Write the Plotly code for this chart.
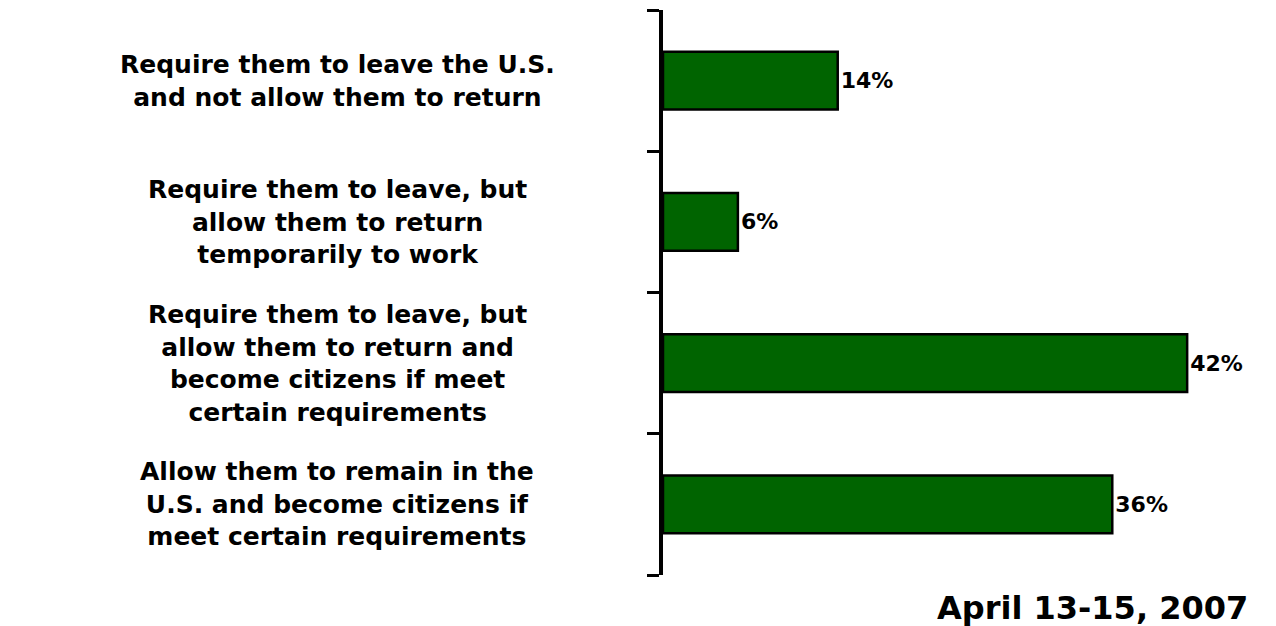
import plotly.graph_objects as go

categories = [
    "Require them to leave the U.S.<br>and not allow them to return",
    "Require them to leave, but<br>allow them to return<br>temporarily to work",
    "Require them to leave, but<br>allow them to return and<br>become citizens if meet<br>certain requirements",
    "Allow them to remain in the<br>U.S. and become citizens if<br>meet certain requirements",
]
values = [14, 6, 42, 36]
date_label = "April 13-15, 2007"

W, H = 1276, 626
ml, mr, mt, mb = 663, 14, 10, 51
pw = W - ml - mr
ph = H - mt - mb

positions = list(range(len(categories)))

fig = go.Figure()
fig.add_trace(go.Bar(
    x=values, y=positions, orientation="h",
    width=0.41,
    marker=dict(color="#006400", line=dict(color="black", width=2.5)),
    text=[f"{v}%" for v in values], textposition="outside",
    textfont=dict(family="DejaVu Sans", size=22, color="black", weight="bold"),
    cliponaxis=False,
))

for p, c in zip(positions, categories):
    fig.add_annotation(
        x=(337 - ml) / pw, xref="paper", y=p, yref="y",
        text=c, showarrow=False, xanchor="center", yanchor="middle", align="center",
        font=dict(family="DejaVu Sans", size=25, color="black", weight="bold"),
    )

fig.add_annotation(
    x=(1250 - ml) / pw, xref="paper", y=-(608 - (mt + ph)) / ph, yref="paper",
    text=date_label, showarrow=False, xanchor="right", yanchor="middle",
    font=dict(family="DejaVu Sans", size=32, color="black", weight="bold"),
)

fig.update_layout(
    width=W, height=H,
    margin=dict(l=ml, r=mr, t=mt, b=mb),
    paper_bgcolor="white", plot_bgcolor="white",
    showlegend=False,
    xaxis=dict(range=[0, pw / 12.48], visible=False, showgrid=False),
    yaxis=dict(range=[3.5, -0.5], tickmode="array",
               tickvals=[-0.5, 0.5, 1.5, 2.5, 3.5], ticktext=["", "", "", "", ""],
               ticks="outside", ticklen=12, tickwidth=3, tickcolor="black",
               showline=True, linecolor="black", linewidth=4,
               showgrid=False, zeroline=False),
)

fig.write_html("out.html")
